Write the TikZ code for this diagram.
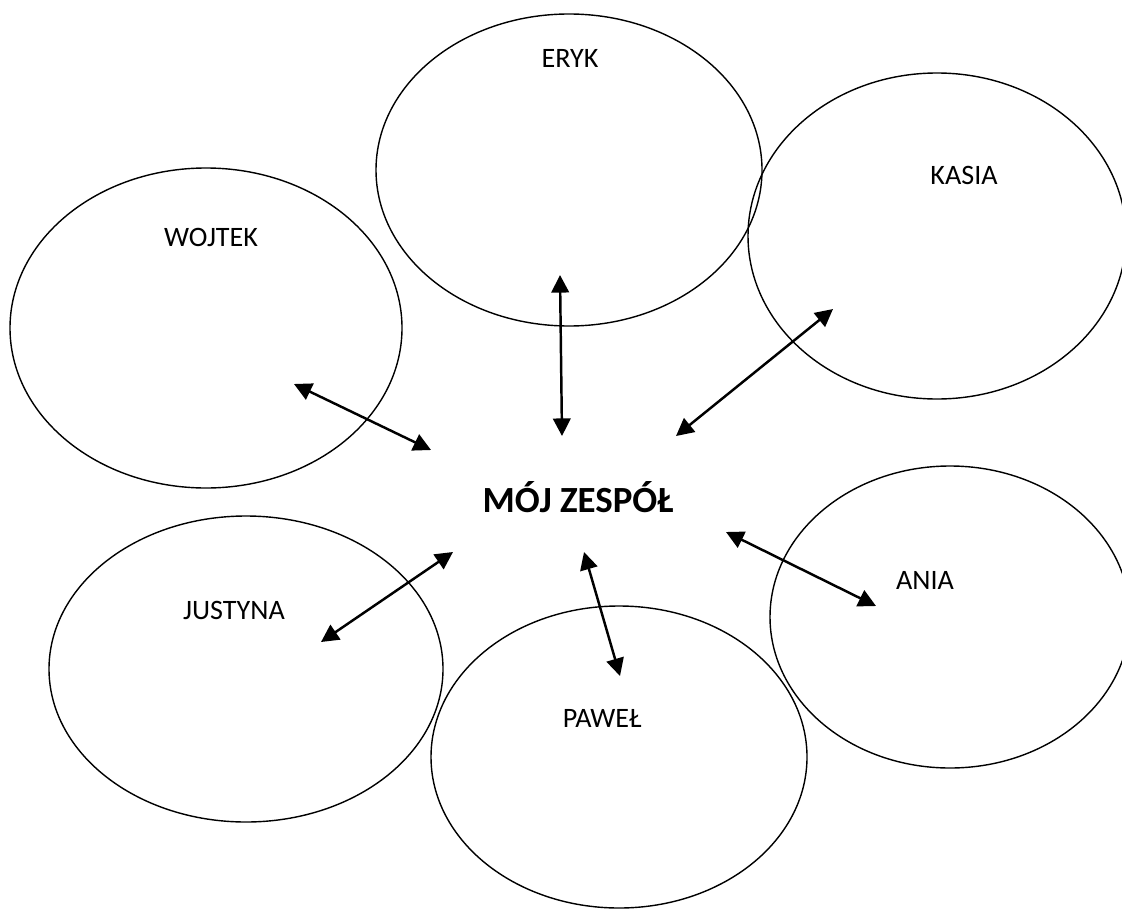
\documentclass[tikz,border=0pt]{standalone}
\usepackage{fontspec}
\setmainfont{Carlito}
\usetikzlibrary{positioning,arrows.meta}

\tikzset{
  bubble/.style={black, line width=0.8pt},
  member/.style={anchor=base, font=\fontsize{16}{19}\selectfont},
  link/.style={black, line width=1.4pt,
    {Triangle[length=10pt,width=10pt]}-{Triangle[length=10pt,width=10pt]}}
}

\begin{document}
\begin{tikzpicture}
\useasboundingbox (0,0) rectangle (22.44,18.2);
\draw[bubble] (11.38,14.8) ellipse (3.86 and 3.12);
\draw[bubble] (18.74,13.48) ellipse (3.78 and 3.26);
\draw[bubble] (4.12,11.64) ellipse (3.92 and 3.2);
\draw[bubble] (4.92,4.82) ellipse (3.94 and 3.06);
\draw[bubble] (12.38,3.06) ellipse (3.76 and 3.02);
\draw[bubble] (19.0,5.86) ellipse (3.6 and 3.02);
\node[member] (eryk) at (11.4,16.84) {ERYK};
\node[member] (kasia) at (19.28,14.5) {KASIA};
\node[member] (wojtek) at (4.22,13.28) {WOJTEK};
\node[member] (justyna) at (4.68,5.82) {JUSTYNA};
\node[member] (pawel) at (12.04,3.66) {PAWEŁ};
\node[member] (ania) at (18.5,6.42) {ANIA};
\node[anchor=base, font=\fontsize{21}{25}\selectfont\bfseries] (team)
    at (11.56,7.96) {MÓJ ZESPÓŁ};
% arrow ends
\coordinate (eryk-a) at (11.2,12.7);
\coordinate (eryk-b) at (11.24,9.48);
\coordinate (kasia-a) at (16.66,12.02);
\coordinate (kasia-b) at (13.52,9.48);
\coordinate (wojtek-a) at (5.88,10.52);
\coordinate (wojtek-b) at (8.62,9.2);
\coordinate (justyna-a) at (9.06,7.16);
\coordinate (justyna-b) at (6.42,5.36);
\coordinate (pawel-a) at (11.68,7.16);
\coordinate (pawel-b) at (12.4,4.68);
\coordinate (ania-a) at (14.52,7.56);
\coordinate (ania-b) at (17.52,6.08);
\draw[link] (eryk-a) -- (eryk-b);
\draw[link] (kasia-a) -- (kasia-b);
\draw[link] (wojtek-a) -- (wojtek-b);
\draw[link] (justyna-a) -- (justyna-b);
\draw[link] (pawel-a) -- (pawel-b);
\draw[link] (ania-a) -- (ania-b);
\end{tikzpicture}
\end{document}
